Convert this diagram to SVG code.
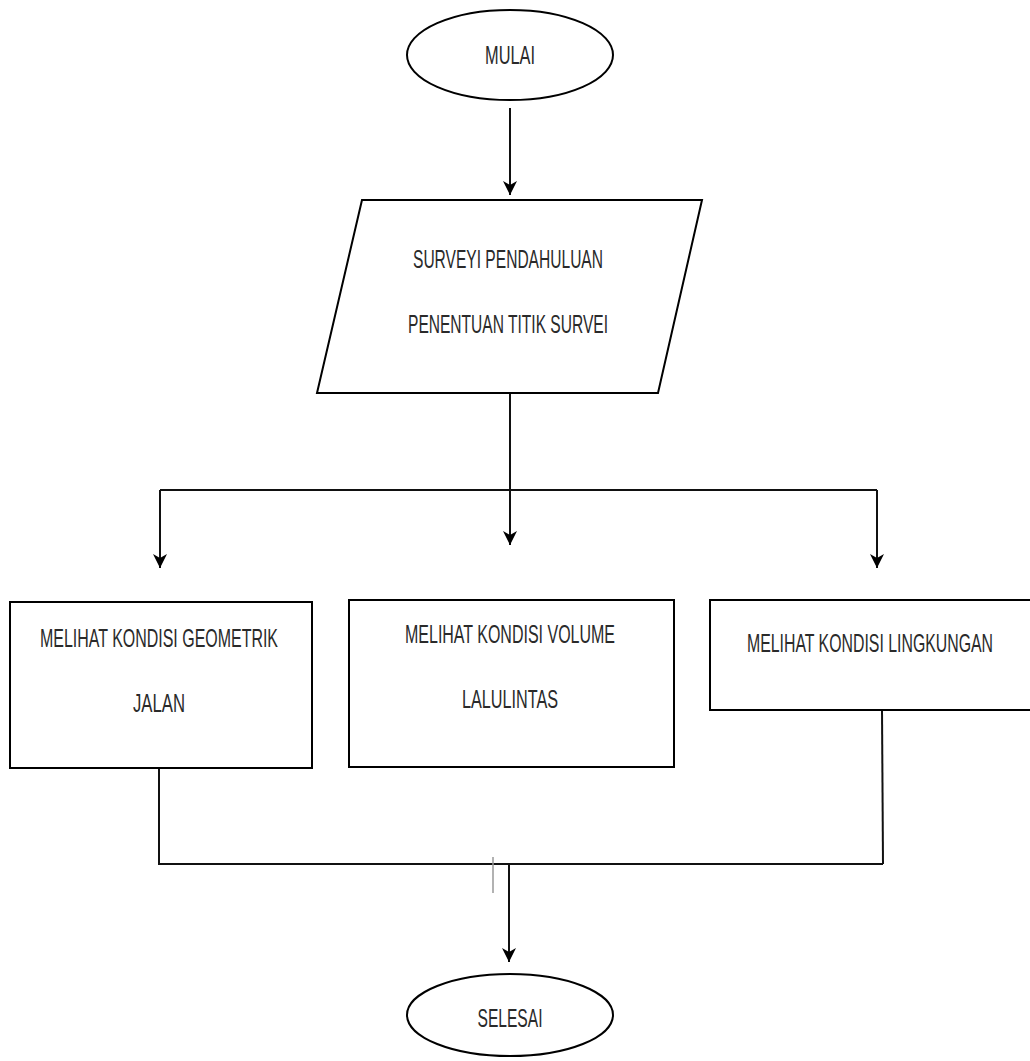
<svg xmlns="http://www.w3.org/2000/svg" width="1030" height="1061" viewBox="0 0 1030 1061">
<style>
.shape{fill:#fff;stroke:#000;stroke-width:2}
.conn{fill:none;stroke:#111;stroke-width:2}
.lbl{font-family:"Liberation Sans",Arial,sans-serif;font-size:26px;fill:#2a2a2a;text-anchor:middle}
</style>
<defs>
<marker id="arr" markerUnits="userSpaceOnUse" markerWidth="16" markerHeight="16" refX="14" refY="7" orient="auto">
<path d="M0,0 L14,7 L0,14 L4,7 z" fill="#000"/>
</marker>
</defs>
<rect width="1030" height="1061" fill="#fff"/>
<g id="connectors">
<path class="conn" d="M510,108 V195" marker-end="url(#arr)"/>
<path class="conn" d="M510,393 V545" marker-end="url(#arr)"/>
<path class="conn" d="M160,490 H877"/>
<path class="conn" d="M160,490 V568" marker-end="url(#arr)"/>
<path class="conn" d="M877,490 V568" marker-end="url(#arr)"/>
<path class="conn" d="M159,768 V864 H883"/>
<path class="conn" d="M882,710 L883,864"/>
<path d="M493,857 V893" stroke="#999" stroke-width="1.5"/>
<path class="conn" d="M509,864 V962" marker-end="url(#arr)"/>
</g>
<g id="mulai">
<ellipse class="shape" cx="510" cy="55" rx="103" ry="45"/>
<text class="lbl" x="510" y="64" textLength="50" lengthAdjust="spacingAndGlyphs">MULAI</text>
</g>
<g id="survei">
<polygon class="shape" points="362,200 702,200 658,393 317,393"/>
<text class="lbl" x="508" y="268" textLength="190" lengthAdjust="spacingAndGlyphs">SURVEYI PENDAHULUAN</text>
<text class="lbl" x="508" y="333" textLength="200" lengthAdjust="spacingAndGlyphs">PENENTUAN TITIK SURVEI</text>
</g>
<g id="geometrik">
<rect class="shape" x="10" y="602" width="302" height="166"/>
<text class="lbl" x="159" y="647" textLength="238" lengthAdjust="spacingAndGlyphs">MELIHAT KONDISI GEOMETRIK</text>
<text class="lbl" x="159" y="712" textLength="52" lengthAdjust="spacingAndGlyphs">JALAN</text>
</g>
<g id="volume">
<rect class="shape" x="349" y="600" width="325" height="167"/>
<text class="lbl" x="510" y="643" textLength="210" lengthAdjust="spacingAndGlyphs">MELIHAT KONDISI VOLUME</text>
<text class="lbl" x="510" y="708" textLength="96" lengthAdjust="spacingAndGlyphs">LALULINTAS</text>
</g>
<g id="lingkungan">
<rect class="shape" x="710" y="600" width="321.5" height="110"/>
<text class="lbl" transform="translate(870,652) scale(0.62,1)" x="0" y="0" textLength="397" lengthAdjust="spacingAndGlyphs">MELIHAT KONDISI LINGKUNGAN</text>
</g>
<g id="selesai">
<ellipse class="shape" cx="510" cy="1015" rx="103" ry="41"/>
<text class="lbl" x="510" y="1027" textLength="65" lengthAdjust="spacingAndGlyphs">SELESAI</text>
</g>
</svg>
